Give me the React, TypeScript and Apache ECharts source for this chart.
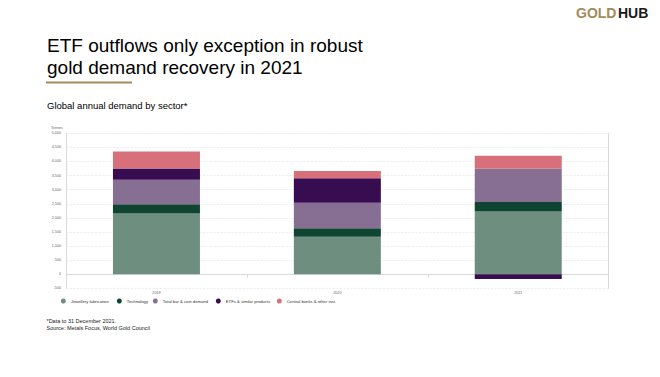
import React, { useEffect, useRef } from "react";
import * as echarts from "echarts";

const years = ["2019", "2020", "2021"];
const jewellery = [2152, 1329, 2229];
const technology = [326, 303, 330];
const barCoin = [871, 903, 1181];
const etfs = [398, 874, -173];
const centralBanks = [605, 255, 463];

const seriesNames = [
  "Jewellery fabrication",
  "Technology",
  "Total bar & coin demand",
  "ETFs & similar products",
  "Central banks & other inst.",
];
const seriesColors = ["#6e8f80", "#0e4431", "#866f92", "#370c50", "#d7707b"];
const seriesData = [jewellery, technology, barCoin, etfs, centralBanks];
const legendLefts = [60.8, 116.8, 152.8, 215.8, 276.8];

export default function App() {
  const ref = useRef<HTMLDivElement>(null);
  useEffect(() => {
    if (!ref.current) return;
    const chart = echarts.init(ref.current, null, { renderer: "svg" });
    const font = "Liberation Sans, Arial, sans-serif";
    chart.setOption({
      animation: false,
      backgroundColor: "#ffffff",
      textStyle: { fontFamily: font },
      grid: { left: 66, right: 51.3, top: 133.3, bottom: 88.7, containLabel: false },
      legend: seriesNames.map((n, i) => ({
        data: [n],
        left: legendLefts[i],
        top: 298.5,
        icon: "circle",
        itemWidth: 5,
        itemHeight: 5,
        padding: 0,
        textStyle: { fontSize: 4.2, color: "#333", fontFamily: font },
        selectedMode: false,
      })),
      xAxis: {
        type: "category",
        data: years,
        axisLine: { show: true, lineStyle: { color: "#d9d9d9", width: 1 } },
        axisTick: { show: true, length: 3.5, lineStyle: { color: "#d9d9d9" } },
        axisLabel: { fontSize: 3.7, color: "#666", margin: 3 },
      },
      yAxis: [
        {
          type: "value",
          min: -500,
          max: 5000,
          interval: 500,
          axisLine: { show: true, lineStyle: { color: "#d9d9d9", width: 1 } },
          axisTick: { show: false },
          axisLabel: {
            fontSize: 3.7,
            color: "#666",
            margin: 5,
            formatter: (v: number) => v.toLocaleString("en-US"),
          },
          splitLine: { show: true, lineStyle: { color: "#e2e2e2", type: "dashed", width: 0.6 } },
        },
        {
          type: "value",
          min: -500,
          max: 5000,
          interval: 500,
          position: "right",
          axisLine: { show: true, lineStyle: { color: "#d9d9d9", width: 1 } },
          axisTick: { show: false },
          axisLabel: { show: false },
          splitLine: { show: false },
        },
      ],
      series: seriesNames.map((n, i) => ({
        name: n,
        type: "bar",
        stack: "total",
        barWidth: 87,
        data: seriesData[i],
        itemStyle: { color: seriesColors[i] },
      })),
      graphic: [
        {
          type: "text",
          left: 576,
          top: 6,
          style: { text: "GOLD", fontSize: 14, fontWeight: "bold", fill: "#a58a5a", fontFamily: font },
        },
        {
          type: "text",
          left: 618,
          top: 6,
          style: { text: "HUB", fontSize: 14, fontWeight: "bold", fill: "#1a1a1a", fontFamily: font },
        },
        {
          type: "text",
          left: 47,
          top: 34,
          style: {
            text: "ETF outflows only exception in robust\ngold demand recovery in 2021",
            fontSize: 19,
            lineHeight: 22,
            fill: "#000",
            fontFamily: font,
          },
        },
        {
          type: "rect",
          shape: { x: 46, y: 81.5, width: 86, height: 2 },
          style: { fill: "#a58a5a" },
        },
        {
          type: "text",
          left: 47,
          top: 100,
          style: { text: "Global annual demand by sector*", fontSize: 9.5, fill: "#000", fontFamily: font },
        },
        {
          type: "text",
          left: 51,
          top: 125.5,
          style: { text: "Tonnes", fontSize: 3.7, fill: "#666", fontFamily: font },
        },
        {
          type: "text",
          left: 46.5,
          top: 317,
          style: {
            text: "*Data to 31 December 2021.\nSource: Metals Focus, World Gold Council",
            fontSize: 5.5,
            lineHeight: 7.5,
            fill: "#222",
            fontFamily: font,
          },
        },
      ],
    });
    return () => chart.dispose();
  }, []);
  return (
    <div
      ref={ref}
      style={{ position: "fixed", left: 0, top: 0, width: 660, height: 377, background: "#fff" }}
    />
  );
}
